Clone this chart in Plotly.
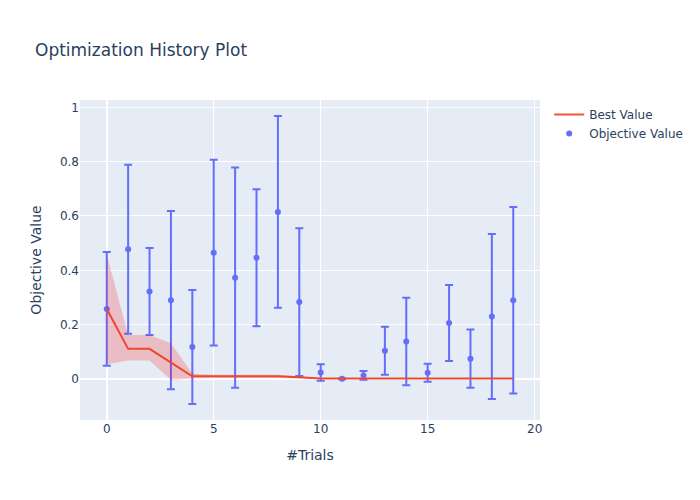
import plotly.graph_objects as go

trials = list(range(20))
objective_mean = [0.258, 0.478, 0.322, 0.290, 0.118, 0.465, 0.373, 0.446, 0.615, 0.283,
                  0.024, 0.001, 0.013, 0.104, 0.138, 0.023, 0.206, 0.075, 0.230, 0.290]
objective_std = [0.209, 0.311, 0.160, 0.328, 0.210, 0.342, 0.405, 0.252, 0.353, 0.272,
                 0.030, 0.002, 0.016, 0.088, 0.161, 0.033, 0.140, 0.107, 0.304, 0.343]
best_mean = [0.258, 0.111, 0.111, 0.060, 0.010, 0.010, 0.010, 0.010, 0.010, 0.006,
             0.002, 0.002, 0.002, 0.002, 0.002, 0.002, 0.002, 0.002, 0.002, 0.002]
best_upper = [0.458, 0.162, 0.162, 0.132, 0.020, 0.016, 0.016, 0.016, 0.016, 0.010,
              0.004, 0.004, 0.004, 0.004, 0.004, 0.004, 0.004, 0.004, 0.004, 0.004]
best_lower = [0.054, 0.068, 0.068, -0.004, 0.002, 0.004, 0.004, 0.004, 0.004, 0.002,
              0.000, 0.000, 0.000, 0.000, 0.000, 0.000, 0.000, 0.000, 0.000, 0.000]


def main():
    # the page adds an 8px body margin, so the figure is 8px smaller and margins shifted
    fig = go.Figure(
        layout={
            "title": {"text": "Optimization History Plot", "x": 27 / 692,
                      "y": 1 - 42 / 492, "yanchor": "middle"},
            "width": 692,
            "height": 492,
            "margin": {"l": 72, "t": 92, "r": 80, "b": 80},
            "xaxis_title": "#Trials",
            "yaxis_title": "Objective Value",
            "font": {"family": "Verdana, 'DejaVu Sans', sans-serif"},
        }
    )

    fig.add_trace(
        go.Scatter(
            x=trials,
            y=objective_mean,
            error_y=dict(type="data", array=objective_std, visible=True),
            mode="markers",
            name="Objective Value",
            marker=dict(color="#636EFA"),
        )
    )
    fig.add_trace(
        go.Scatter(
            x=trials,
            y=best_mean,
            mode="lines",
            name="Best Value",
            line=dict(color="#EF553B"),
        )
    )
    fig.add_trace(
        go.Scatter(
            x=trials,
            y=best_upper,
            mode="lines",
            line=dict(color="rgba(255,255,255,0)"),
            showlegend=False,
            hoverinfo="skip",
        )
    )
    fig.add_trace(
        go.Scatter(
            x=trials,
            y=best_lower,
            mode="none",
            fill="tonexty",
            fillcolor="rgba(255,0,0,0.2)",
            showlegend=False,
            hoverinfo="skip",
        )
    )

    fig.write_html("out.html")


if __name__ == "__main__":
    main()
